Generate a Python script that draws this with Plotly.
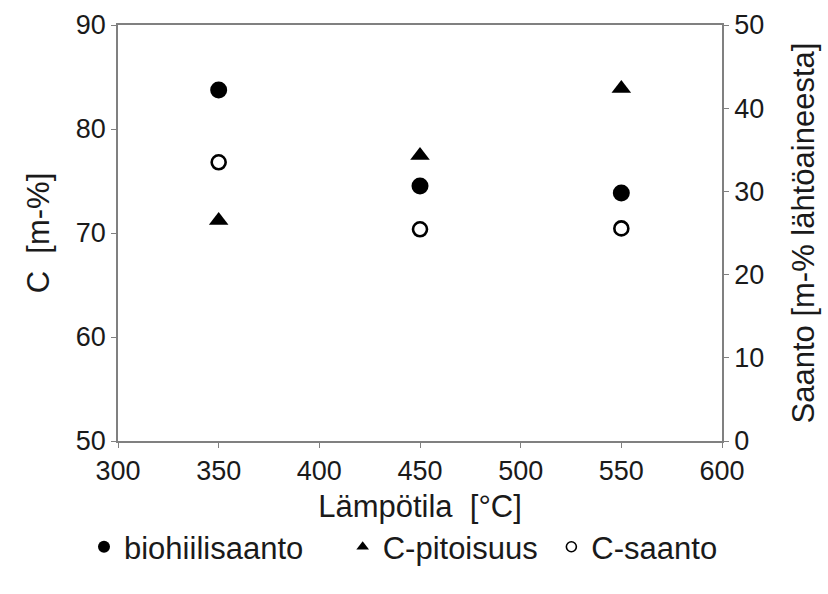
import plotly.graph_objects as go

# Pyrolysis temperature (°C)
temperatures = [350, 450, 550]

# Biochar yield, m-% of feedstock (right axis)
biochar_yield = [42.2, 30.65, 29.8]
# Carbon content of the char, m-% (left axis)
carbon_content = [71.2, 77.45, 83.9]
# Carbon yield, m-% of feedstock (right axis)
carbon_yield = [33.5, 25.45, 25.55]

x_ticks = [300, 350, 400, 450, 500, 550, 600]
left_ticks = [50, 60, 70, 80, 90]
right_ticks = [0, 10, 20, 30, 40, 50]

FONT = "Liberation Sans, Arial, sans-serif"
AXIS_GREY = "#808080"
TEXT = "#1a1a1a"
TICK_SIZE = 27
TITLE_SIZE = 31
NBSP = "\u00a0"

fig = go.Figure()

# data marks
fig.add_trace(go.Scatter(
    x=temperatures, y=biochar_yield, yaxis="y2", mode="markers",
    name="biohiilisaanto", showlegend=False,
    marker=dict(symbol="circle", size=17, color="black", line=dict(width=0)),
))
fig.add_trace(go.Scatter(
    x=temperatures, y=carbon_content, yaxis="y", mode="markers",
    name="C-pitoisuus", showlegend=False,
    marker=dict(symbol="triangle-up", size=17, color="black", line=dict(width=0)),
))
fig.add_trace(go.Scatter(
    x=temperatures, y=carbon_yield, yaxis="y2", mode="markers",
    name="C-saanto", showlegend=False,
    marker=dict(symbol="circle-open", size=14, color="black", line=dict(width=2.6, color="black")),
))

# legend entries with smaller symbols; trailing spaces widen the gaps between entries
legend_items = [
    ("biohiilisaanto" + NBSP * 4, dict(symbol="circle", size=12, color="black")),
    ("C-pitoisuus" + NBSP, dict(symbol="triangle-up", size=11, color="black")),
    ("C-saanto", dict(symbol="circle-open", size=10, color="black", line=dict(width=1.6, color="black"))),
]
for name, marker in legend_items:
    fig.add_trace(go.Scatter(x=[None], y=[None], mode="markers", name=name, marker=marker))

axis_common = dict(
    showline=True, linecolor=AXIS_GREY, linewidth=1.5,
    ticks="outside", ticklen=5, tickcolor=AXIS_GREY, tickwidth=1.2,
    showgrid=False, zeroline=False, automargin=False,
    tickfont=dict(family=FONT, size=TICK_SIZE, color=TEXT),
)

fig.update_layout(
    width=828, height=594,
    paper_bgcolor="white", plot_bgcolor="white",
    margin=dict(l=118, r=106, t=25, b=153, autoexpand=False),
    font=dict(family=FONT, size=TICK_SIZE, color=TEXT),
    xaxis=dict(
        range=[300, 600], tickvals=x_ticks, mirror=True, tickangle=0,
        title=dict(text="Lämpötila\u00a0 [°C]", font=dict(family=FONT, size=TITLE_SIZE, color=TEXT), standoff=10),
        **axis_common,
    ),
    yaxis=dict(
        range=[50, 90], tickvals=left_ticks, ticksuffix=NBSP * 2,
        title=dict(text="C\u00a0 [m-%]", font=dict(family=FONT, size=TITLE_SIZE, color=TEXT), standoff=17),
        **axis_common,
    ),
    yaxis2=dict(
        range=[0, 50], tickvals=right_ticks, overlaying="y", side="right", tickprefix="\u2009",
        title=dict(text="Saanto [m-% lähtöaineesta]", font=dict(family=FONT, size=TITLE_SIZE, color=TEXT), standoff=29),
        **axis_common,
    ),
    legend=dict(
        orientation="h", x=-0.0563, xanchor="left", xref="paper",
        y=-0.255, yanchor="middle",
        font=dict(family=FONT, size=TITLE_SIZE, color=TEXT),
        itemwidth=30, bgcolor="rgba(0,0,0,0)",
    ),
    showlegend=True,
)

fig.write_html("out.html")
